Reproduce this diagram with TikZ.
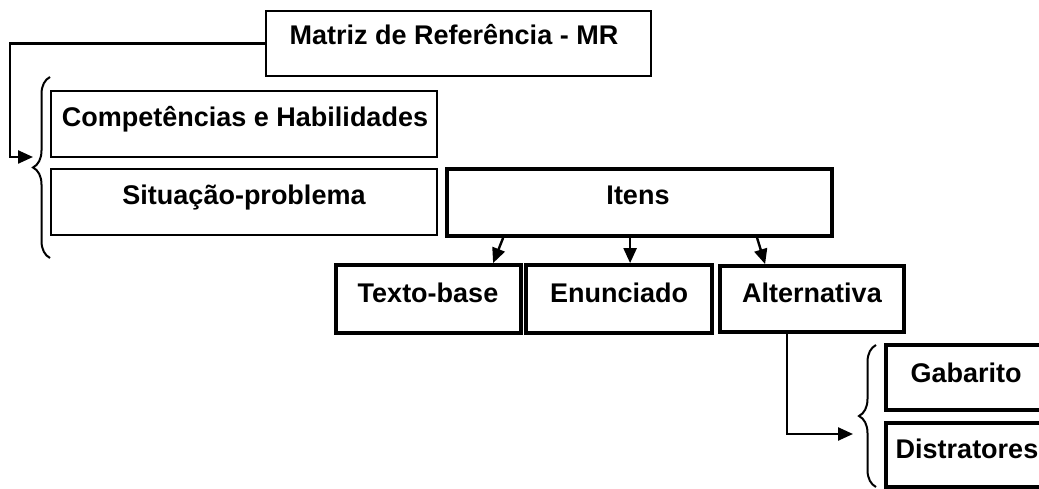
\documentclass[tikz,border=0pt]{standalone}
\usepackage{fontspec}
\setmainfont{Liberation Sans}
\usetikzlibrary{arrows.meta,decorations.pathreplacing}
\tikzset{
  thinbox/.style={draw, line width=2.3pt, inner sep=0pt, fill=white},
  thickbox/.style={draw, line width=3.8pt, inner sep=0pt, fill=white},
  lbl/.style={anchor=base, inner sep=0pt, font=\fontsize{27}{30}\selectfont\bfseries},
  arr/.style={line width=2.4pt, -{Triangle[length=15pt,width=13pt]}},
  bracestyle/.style={line width=2pt, decorate, decoration={brace, amplitude=17pt}},
}
\begin{document}
\begin{tikzpicture}[x=1pt,y=-1pt]
\clip (0,0) rectangle (1039,489);
\fill[white] (0,0) rectangle (1039,489);
% boxes
\node[thinbox, minimum width=385pt, minimum height=65pt] (mr) at (458.5,43.5) {};
\node[thinbox, minimum width=386pt, minimum height=66pt] (comp) at (244,124) {};
\node[thinbox, minimum width=386pt, minimum height=66pt] (sit) at (244,202) {};
\node[thickbox, minimum width=385pt, minimum height=67pt] (itens) at (639.5,202.5) {};
\node[thickbox, minimum width=185pt, minimum height=68pt] (tb) at (428.5,299) {};
\node[thickbox, minimum width=186pt, minimum height=68pt] (en) at (619,299) {};
\node[thickbox, minimum width=184pt, minimum height=66pt] (alt) at (812,299) {};
\node[thickbox, minimum width=160pt, minimum height=65pt] (gab) at (966,377.5) {};
\node[thickbox, minimum width=160pt, minimum height=64pt] (dis) at (966,455) {};
% labels
\node[lbl] (tmr) at (454,45) {Matriz de Referência - MR};
\node[lbl] (tcomp) at (245,127) {Competências e Habilidades};
\node[lbl] (tsit) at (244,205) {Situação-problema};
\node[lbl] (titens) at (638,205) {Itens};
\node[lbl] (ttb) at (428,302) {Texto-base};
\node[lbl] (ten) at (619,302) {Enunciado};
\node[lbl] (talt) at (812,302) {Alternativa};
\node[lbl] (tgab) at (966,382) {Gabarito};
\node[lbl] (tdis) at (967,458) {Distratores};
% braces
\coordinate (br1a) at (50,258);
\coordinate (br1b) at (50,77);
\draw[bracestyle] (br1a) -- (br1b);
\coordinate (br2a) at (876,487);
\coordinate (br2b) at (876,345);
\draw[bracestyle] (br2a) -- (br2b);
% connectors
\coordinate (k1) at (10,157);
\coordinate (b1) at (33,157);
\draw[arr] (mr.west) -| (k1) -- (b1);
\draw[arr] ([xshift=58pt]itens.south west) -- ([xshift=159pt]tb.north west);
\draw[arr] ([xshift=185pt]itens.south west) -- ([xshift=106pt]en.north west);
\draw[arr] ([xshift=312pt]itens.south west) -- ([xshift=47pt]alt.north west);
\coordinate (b2) at (853,434);
\draw[arr] ([xshift=69pt]alt.south west) |- (b2);
\end{tikzpicture}
\end{document}
